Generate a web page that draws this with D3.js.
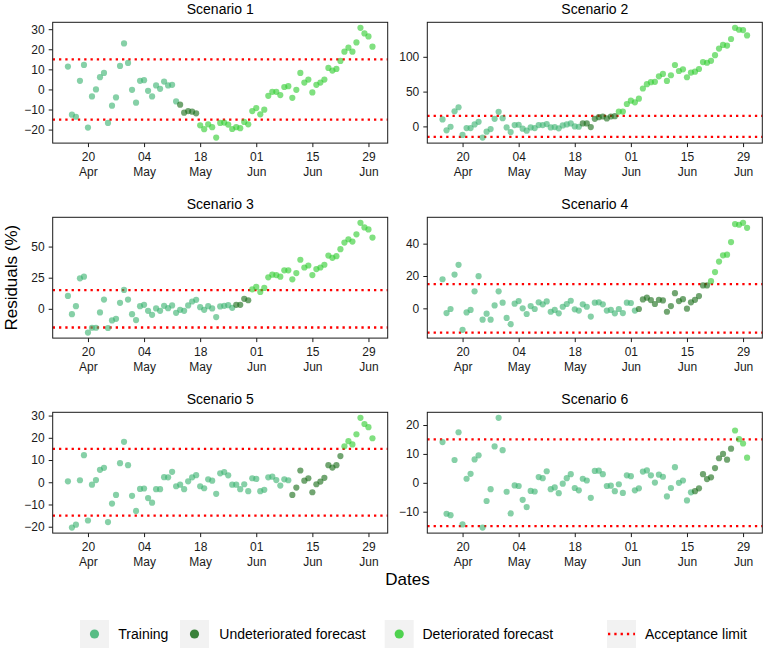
<!DOCTYPE html>
<html>
<head>
<meta charset="utf-8">
<script src="https://cdn.jsdelivr.net/npm/d3@7"></script>
<style>
  body { margin: 0; background: #fff; }
  svg { font-family: Arial, "Liberation Sans", sans-serif; }
</style>
</head>
<body>
<div id="wrapper"></div>
<script>
// data: one residual (%) per day, 15 Apr .. 30 Jun
const firstDay = "2020-04-15"
const lastDay = "2020-06-30"
const scenarioNames = ["Scenario 1", "Scenario 2", "Scenario 3", "Scenario 4", "Scenario 5", "Scenario 6"]

const scenario1 = [11.4, -12.6, -13.6, 4.3, 12.2, -19, -3.5, 0, 6.1, 8.2, -16.7, -8.1, -4, 11.7, 22.9, 13.2,
  -0.2, -6.6, 4.3, 4.6, -0.7, -3.5, 2, 0.3, 3.9, 2, 2.3, -6, -7.6, -11.6, -10.8, -11.1, -11.9, -17.9, -19.8,
  -17.4, -18.8, -24, -16.7, -16.5, -17.5, -19.7, -18.8, -19.3, -16.2, -17.4, -10.8, -9.3, -12.4, -10.1, -3.2,
  -1.2, -1.2, -2.8, 1.2, 1.6, -4.2, -0.2, 8.2, 3.4, 4.9, -1.5, 2.3, 3.4, 4.9, 10.7, 9.4, 10.2, 14.2, 18.8,
  20.8, 18.8, 23.4, 30.7, 27.9, 26.4, 21.3]
const scenario2 = [10, -5.7, -0.5, 21.8, 27.5, -12.3, -2.4, -2.4, 2.8, 6.6, -16.1, -7.6, -3.8, 10.9, 20.9, 11.8,
  -1.4, -8.1, 1.9, 2.4, -3.3, -6.2, -1.4, -2.4, 1.9, 1.9, 3.3, -1.4, -0.9, -2.8, 1.4, 2.8, 4.3, 0, -0.5, 4.3,
  4.3, -0.9, 10.9, 13.3, 14.2, 11.4, 14.2, 14.7, 21.3, 21.3, 32.2, 37, 34.6, 39.8, 54.5, 60.7, 63.5, 64, 72,
  75.4, 65.4, 73.5, 88.2, 79.6, 82, 70.6, 77.3, 78.7, 82.5, 92.4, 91.5, 94.3, 102.4, 111.8, 117.1, 116.1,
  125.6, 141.7, 138.9, 138.4, 130.8]
const scenario3 = [10.4, -4.3, 2.1, 24.5, 25.8, -19.1, -15.2, -15.2, -2.9, 7.4, -15.4, -9.3, -8, 4.8, 15.2, 7.4,
  -4.3, -9, 2.1, 3.2, -1.6, -4.8, 0.3, -1.6, 2.4, 0.5, 2.7, -3.2, -0.8, -1.6, 2.7, 5.9, 7.2, 1.3, -0.8, 2.1,
  0.3, -6.6, 1.9, 2.4, 2.9, 0.8, 3.2, 3.2, 8, 6.9, 15.7, 17.6, 13.6, 16.8, 25.3, 27.4, 27.1, 25.8, 30.9, 30.9,
  23.7, 28.7, 39.4, 33.2, 34.8, 27.1, 31.9, 33.2, 35.4, 42.8, 41, 42.3, 47.9, 53.2, 55.9, 54, 59.8, 69.1,
  65.4, 63.8, 57.2]
const scenario4 = [18, -2.9, -0.4, 20.9, 26.9, -13.3, -2.5, -1, 10.5, 19.9, -7, -3.3, -7, 1.8, 10.5, 3.5, -5.9,
  -9.8, 2.9, 4.5, 0, -3.5, 1.4, -0.4, 3.7, 2.5, 4.3, -2.1, -1, -3.1, 1, 2.7, 4.7, -0.6, -1.4, 2.5, 1, -5.1,
  3.5, 3.7, 2.5, -1.4, -1, -3.1, -0.4, -2.9, 3.5, 3.3, -1.4, -0.4, 5.5, 6.6, 5.1, 2.7, 5.3, 4.9, -2.1, 1.4,
  9.4, 4.5, 5.7, -0.2, 3.7, 5.3, 7.6, 14.2, 14.2, 16.8, 22.4, 28.9, 32.8, 33.2, 41, 52.1, 51.7, 52.9, 49.8]
const scenario5 = [0.4, -20.4, -19.1, 0.9, 12.2, -17.2, -1.1, 1, 5.6, 6.5, -17.9, -9.6, -5.7, 8.6, 18.2, 7.7,
  -6.1, -12.9, -3, -2.8, -7.1, -9.2, -3.1, -3.1, 2.3, 2.2, 4.7, -1.8, -1.1, -3.1, 0.4, 2.2, 3.2, -1.8, -2.7,
  1.3, 0.7, -5.2, 4, 4.6, 3.1, -1.1, -1.1, -3.1, -0.9, -4, 1.8, 1.5, -4, -3.4, 2.2, 2.5, 1, -1.5, 1.3, 0.9,
  -5.7, -2.4, 5.3, 0.7, 1.8, -4.5, -0.9, 0.3, 2, 7.7, 6.6, 7.7, 11.8, 16.2, 18.5, 17, 21.6, 29, 26.2, 24.8,
  19.8]
const scenario6 = [14.1, -10.7, -11.2, 7.9, 17.5, -14.4, 1.4, 3.1, 8.1, 9.5, -15.5, -6.3, -2.2, 12.6, 22.5,
  11.3, -3.1, -10.6, -0.9, -1.1, -5.9, -8.4, -2.8, -3, 2, 1.6, 4, -2.2, -1.6, -3.6, -0.3, 1.6, 3, -1.8, -2.6,
  1.4, 0.8, -5.2, 4.1, 4.2, 3, -1.1, -1, -2.9, -0.5, -3.5, 2.6, 2.3, -2.6, -1.9, 3.9, 4.3, 2.6, 0.1, 2.8, 2.1,
  -4.7, -1.8, 5.4, 0, 0.8, -6.1, -3.3, -2.9, -1.9, 3, 1.3, 1.9, 5.1, 8.5, 10, 8, 11.8, 18.1, 15.1, 13.6, 8.7]

// index of the first forecast day and of the first deteriorated day
const forecastStart = [28, 35, 42, 49, 56, 63]
const deteriorationStart = [33, 44, 46, 67, 69, 73]

const yTickValues = [
  [-20, -10, 0, 10, 20, 30],
  [0, 50, 100],
  [0, 25, 50],
  [0, 20, 40],
  [-20, -10, 0, 10, 20, 30],
  [-10, 0, 10, 20],
]
const xTickDates = ["2020-04-20", "2020-05-04", "2020-05-18", "2020-06-01", "2020-06-15", "2020-06-29"]
const acceptanceLimit = 15
const phaseNames = ["Training", "Undeteriorated forecast", "Deteriorated forecast"]
const phaseColors = ["#3CB371", "#1A6E1A", "#32CD32"]

function drawChart() {
  const residuals = [scenario1, scenario2, scenario3, scenario4, scenario5, scenario6]
  const parseDate = d3.timeParse("%Y-%m-%d")
  const start = parseDate(firstDay)
  const end = parseDate(lastDay)
  const dates = d3.timeDay.range(start, d3.timeDay.offset(end, 1))

  let dimensions = {
    width: 765,
    height: 651,
    panelWidth: 335,
    panelHeight: 120.8,
    columns: [52.7, 427.3],
    rows: [22.3, 217.3, 412.3],
  }

  const wrapper = d3.select("#wrapper")
    .append("svg")
      .attr("width", dimensions.width)
      .attr("height", dimensions.height)

  // shared x scale, ggplot style 5% expansion
  const span = end - start
  const xScale = d3.scaleTime()
    .domain([new Date(+start - span * 0.05), new Date(+end + span * 0.05)])
    .range([0, dimensions.panelWidth])

  const phaseOf = (k, i) => i < forecastStart[k] ? 0 : i < deteriorationStart[k] ? 1 : 2

  residuals.forEach((values, k) => {
    const col = k % 2
    const row = Math.floor(k / 2)
    const panel = wrapper.append("g")
        .attr("transform", `translate(${dimensions.columns[col]}, ${dimensions.rows[row]})`)

    const [lo, hi] = d3.extent(values.concat([-acceptanceLimit, acceptanceLimit]))
    const pad = (hi - lo) * 0.05
    const yScale = d3.scaleLinear()
      .domain([lo - pad, hi + pad])
      .range([dimensions.panelHeight, 0])

    // title
    panel.append("text")
        .attr("x", dimensions.panelWidth / 2)
        .attr("y", -8.5)
        .attr("text-anchor", "middle")
        .style("font-size", "14px")
        .style("font-weight", "normal")
        .text(scenarioNames[k])

    // acceptance limits
    panel.selectAll(".limit")
      .data([acceptanceLimit, -acceptanceLimit])
      .join("line")
        .attr("class", "limit")
        .attr("x1", 0)
        .attr("x2", dimensions.panelWidth)
        .attr("y1", d => yScale(d))
        .attr("y2", d => yScale(d))
        .attr("stroke", "#FF0000")
        .attr("stroke-width", 2.3)
        .attr("stroke-dasharray", "2.3 4")

    // points
    panel.selectAll("circle")
      .data(values)
      .join("circle")
        .attr("cx", (d, i) => xScale(dates[i]))
        .attr("cy", d => yScale(d))
        .attr("r", 3.1)
        .attr("fill", (d, i) => phaseColors[phaseOf(k, i)])
        .attr("fill-opacity", 0.62)

    // axes
    const xAxis = panel.append("g")
        .attr("transform", `translate(0, ${dimensions.panelHeight})`)
        .call(d3.axisBottom(xScale)
          .tickValues(xTickDates.map(parseDate))
          .tickSizeInner(4).tickSizeOuter(0)
          .tickFormat(d3.timeFormat("%d")))
    xAxis.selectAll(".tick text")
        .attr("y", 9)
        .style("font-size", "12px")
        .style("fill", "#1a1a1a")
        .each(function(d) {
          d3.select(this.parentNode).append("text")
              .attr("y", 24.5)
              .attr("dy", "0.71em")
              .attr("text-anchor", "middle")
              .attr("fill", "#1a1a1a")
              .style("font-size", "12px")
              .text(d3.timeFormat("%b")(d))
        })

    const yAxis = panel.append("g")
        .call(d3.axisLeft(yScale)
          .tickValues(yTickValues[k])
          .tickSizeInner(4).tickSizeOuter(0))
    yAxis.selectAll(".tick text")
        .attr("x", -8)
        .style("font-size", "12px")
        .style("fill", "#1a1a1a")

    panel.selectAll(".domain").remove()
    panel.selectAll(".tick line").attr("stroke", "#1a1a1a")
    xAxis.attr("font-family", null)
    yAxis.attr("font-family", null)

    // panel border
    panel.append("rect")
        .attr("width", dimensions.panelWidth)
        .attr("height", dimensions.panelHeight)
        .attr("fill", "none")
        .attr("stroke", "#1a1a1a")
        .attr("stroke-width", 1)
  })

  // axis titles
  wrapper.append("text")
      .attr("transform", `translate(17, ${(dimensions.rows[0] + dimensions.rows[2] + dimensions.panelHeight) / 2}) rotate(-90)`)
      .attr("text-anchor", "middle")
      .style("font-size", "17px")
      .text("Residuals (%)")

  wrapper.append("text")
      .attr("x", dimensions.columns[0] + (dimensions.columns[1] + dimensions.panelWidth - dimensions.columns[0]) / 2)
      .attr("y", 585)
      .attr("text-anchor", "middle")
      .style("font-size", "17px")
      .text("Dates")

  // legend
  const legendY = 634
  const keyX = [80, 180, 384.7, 607]
  const labelX = [118.3, 219.3, 422.5, 645]
  const legendItems = phaseNames.concat(["Acceptance limit"])

  const legend = wrapper.append("g")
  const items = legend.selectAll("g")
    .data(legendItems)
    .join("g")

  items.append("rect")
      .attr("x", (d, i) => keyX[i])
      .attr("y", legendY - 14)
      .attr("width", 29)
      .attr("height", 28)
      .attr("fill", "#F2F2F2")

  items.filter((d, i) => i < 3)
    .append("circle")
      .attr("cx", (d, i) => keyX[i] + 14.5)
      .attr("cy", legendY)
      .attr("r", 4.6)
      .attr("fill", (d, i) => phaseColors[i])
      .attr("fill-opacity", 0.85)

  items.filter((d, i) => i === 3)
    .append("line")
      .attr("x1", keyX[3] + 1)
      .attr("x2", keyX[3] + 28)
      .attr("y1", legendY)
      .attr("y2", legendY)
      .attr("stroke", "#FF0000")
      .attr("stroke-width", 2.3)
      .attr("stroke-dasharray", "2.3 4")

  items.append("text")
      .attr("x", (d, i) => labelX[i])
      .attr("y", legendY)
      .attr("dy", "0.35em")
      .style("font-size", "14px")
      .text(d => d)
}
drawChart()
</script>
</body>
</html>
